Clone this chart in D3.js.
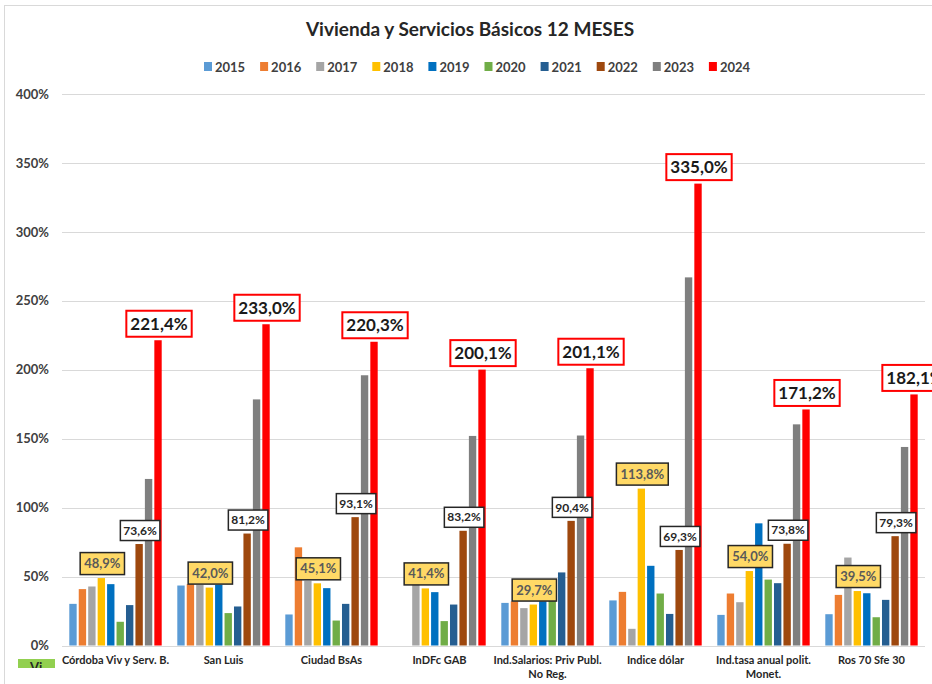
<!DOCTYPE html>
<html>
<head>
<meta charset="utf-8">
<script src="https://cdn.jsdelivr.net/npm/d3@7"></script>
<style>
  html, body { margin: 0; padding: 0; background: #fff; }
  svg { display: block; font-family: Lato, "Open Sans", sans-serif; }
</style>
</head>
<body>
<svg id="chart" width="932" height="684"></svg>
<script>
const title = "Vivienda y Servicios Básicos 12 MESES";
const categories = [
  "Córdoba Viv y Serv. B.", "San Luis", "Ciudad BsAs", "InDFc GAB",
  "Ind.Salarios: Priv Publ.\nNo Reg.", "Indice dólar", "Ind.tasa anual polit.\nMonet.", "Ros 70 Sfe 30"
];
const years = ["2015","2016","2017","2018","2019","2020","2021","2022","2023","2024"];
const colors = ["#5b9bd5","#ed7d31","#a5a5a5","#ffc000","#0070c0","#70ad47","#255e91","#9e480e","#7f7f7f","#ff0000"];
// values in % per year, one entry per category
const v2015 = [30.2, 43.5, 22.5, null, 30.9, 32.7, 22.2, 22.7];
const v2016 = [40.9, 44.5, 71.2, null, 32.0, 38.9, 37.7, 36.7];
const v2017 = [42.8, 44.0, 47.0, 45.0, 27.1, 12.1, 31.4, 63.8];
const v2018 = [48.9, 42.0, 45.1, 41.4, 29.7, 113.8, 54.0, 39.5];
const v2019 = [44.5, 44.0, 41.6, 38.7, 32.0, 57.8, 88.6, 37.9];
const v2020 = [17.2, 23.5, 18.1, 17.7, 33.0, 37.7, 47.8, 20.5];
const v2021 = [29.3, 28.3, 30.2, 29.7, 53.0, 22.9, 45.2, 33.1];
const v2022 = [73.6, 81.2, 93.1, 83.2, 90.4, 69.3, 73.8, 79.3];
const v2023 = [120.8, 178.5, 196.0, 152.0, 152.3, 267.0, 160.4, 144.0];
const v2024 = [221.4, 233.0, 220.3, 200.1, 201.1, 335.0, 171.2, 182.1];
const series = [v2015, v2016, v2017, v2018, v2019, v2020, v2021, v2022, v2023, v2024];
const yTicks = [0, 50, 100, 150, 200, 250, 300, 350, 400];

const svg = d3.select("#chart");
const textCol = "#404040";

// outer frame
svg.append("rect").attr("x", 4.5).attr("y", 5.5).attr("width", 940).attr("height", 700)
  .attr("fill", "none").attr("stroke", "#d9d9d9").attr("stroke-width", 1);

// title
svg.append("text").attr("x", 470).attr("y", 36).attr("text-anchor", "middle")
  .attr("font-size", 19).attr("font-weight", 700).attr("fill", "#262626").text(title);

// scales
const x0 = d3.scaleBand().domain(categories).range([61.5, 925.5])
  .paddingInner(0.1444).paddingOuter(0.0722);
const x1 = d3.scaleBand().domain(years).range([0, x0.bandwidth()]).paddingInner(0.22);
const y = d3.scaleLinear().domain([0, 400]).range([645.5, 94]);

// gridlines
svg.append("g").selectAll("line").data(yTicks).join("line")
  .attr("x1", 62).attr("x2", 925)
  .attr("y1", d => Math.round(y(d)) + 0.5).attr("y2", d => Math.round(y(d)) + 0.5)
  .attr("stroke", "#d9d9d9").attr("stroke-width", 1);

// y axis labels
const yAxis = d3.axisLeft(y).tickValues(yTicks).tickSize(0).tickPadding(0)
  .tickFormat(d => d + "%");
const gy = svg.append("g").attr("transform", "translate(49,0)").call(yAxis);
gy.select(".domain").remove();
gy.selectAll("text").attr("font-size", 13).attr("font-weight", 700)
  .attr("fill", textCol).attr("font-family", "Lato, sans-serif");

// legend
const legend = svg.append("g");
years.forEach((yr, i) => {
  const lx = 204 + i * 56.1;
  legend.append("rect").attr("x", lx).attr("y", 62).attr("width", 8).attr("height", 9).attr("fill", colors[i]);
  legend.append("text").attr("x", lx + 11).attr("y", 71.5).attr("font-size", 13).attr("font-weight", 700)
    .attr("fill", textCol).text(yr);
});

// bars
const groups = svg.append("g").selectAll("g").data(categories).join("g")
  .attr("transform", d => `translate(${x0(d)},0)`);
groups.each(function(cat, ci) {
  const g = d3.select(this);
  years.forEach((yr, si) => {
    const v = series[si][ci];
    if (v == null) return;
    g.append("rect").attr("x", x1(yr)).attr("width", x1.bandwidth())
      .attr("y", y(v)).attr("height", y(0) - y(v)).attr("fill", colors[si]);
  });
});

// category labels
categories.forEach(cat => {
  const lines = cat.split("\n");
  const t = svg.append("text").attr("x", x0(cat) + x0.bandwidth() / 2).attr("y", 664)
    .attr("text-anchor", "middle").attr("font-size", 11).attr("font-weight", 700).attr("fill", "#262626");
  lines.forEach((ln, k) => t.append("tspan").attr("x", x0(cat) + x0.bandwidth() / 2)
    .attr("dy", k === 0 ? 0 : 14).text(ln));
});

// data labels
const fmt = v => v.toFixed(1).replace(".", ",") + "%";
const labelSpecs = [
  { si: 3, fs: 13, fill: "#ffd966", stroke: "#262626", color: "#595959", padX: 4, h: 22, sw: 1.5 },
  { si: 7, fs: 12, fill: "#ffffff", stroke: "#262626", color: "#262626", padX: 3, h: 20, sw: 1.5 },
  { si: 9, fs: 17, fill: "#ffffff", stroke: "#ff0000", color: "#1a1a1a", padX: 4, h: 26, sw: 2 }
];
const lab = svg.append("g");
labelSpecs.forEach(spec => {
  categories.forEach((cat, ci) => {
    const v = series[spec.si][ci];
    const cx = x0(cat) + x1(years[spec.si]) + x1.bandwidth() / 2 + 1;
    const bottom = y(v) - 3.5;
    const g = lab.append("g");
    const r = g.append("rect");
    const t = g.append("text").attr("x", cx).attr("y", bottom - spec.h / 2)
      .attr("dy", "0.35em").attr("text-anchor", "middle")
      .attr("font-size", spec.fs).attr("font-weight", 700).attr("fill", spec.color).text(fmt(v));
    const w = t.node().getComputedTextLength() + spec.padX * 2;
    r.attr("x", cx - w / 2).attr("y", bottom - spec.h).attr("width", w).attr("height", spec.h)
      .attr("fill", spec.fill).attr("stroke", spec.stroke).attr("stroke-width", spec.sw);
  });
});

// small clipped fragment at bottom-left
svg.append("clipPath").attr("id", "frag").append("rect").attr("x", 18).attr("y", 659).attr("width", 37).attr("height", 9);
const fg = svg.append("g").attr("clip-path", "url(#frag)");
fg.append("rect").attr("x", 18).attr("y", 659).attr("width", 37).attr("height", 9).attr("fill", "#92d050");
fg.append("text").attr("x", 30).attr("y", 672).attr("font-size", 13).attr("font-weight", 700).attr("fill", "#262626").text("Vi");
</script>
</body>
</html>
